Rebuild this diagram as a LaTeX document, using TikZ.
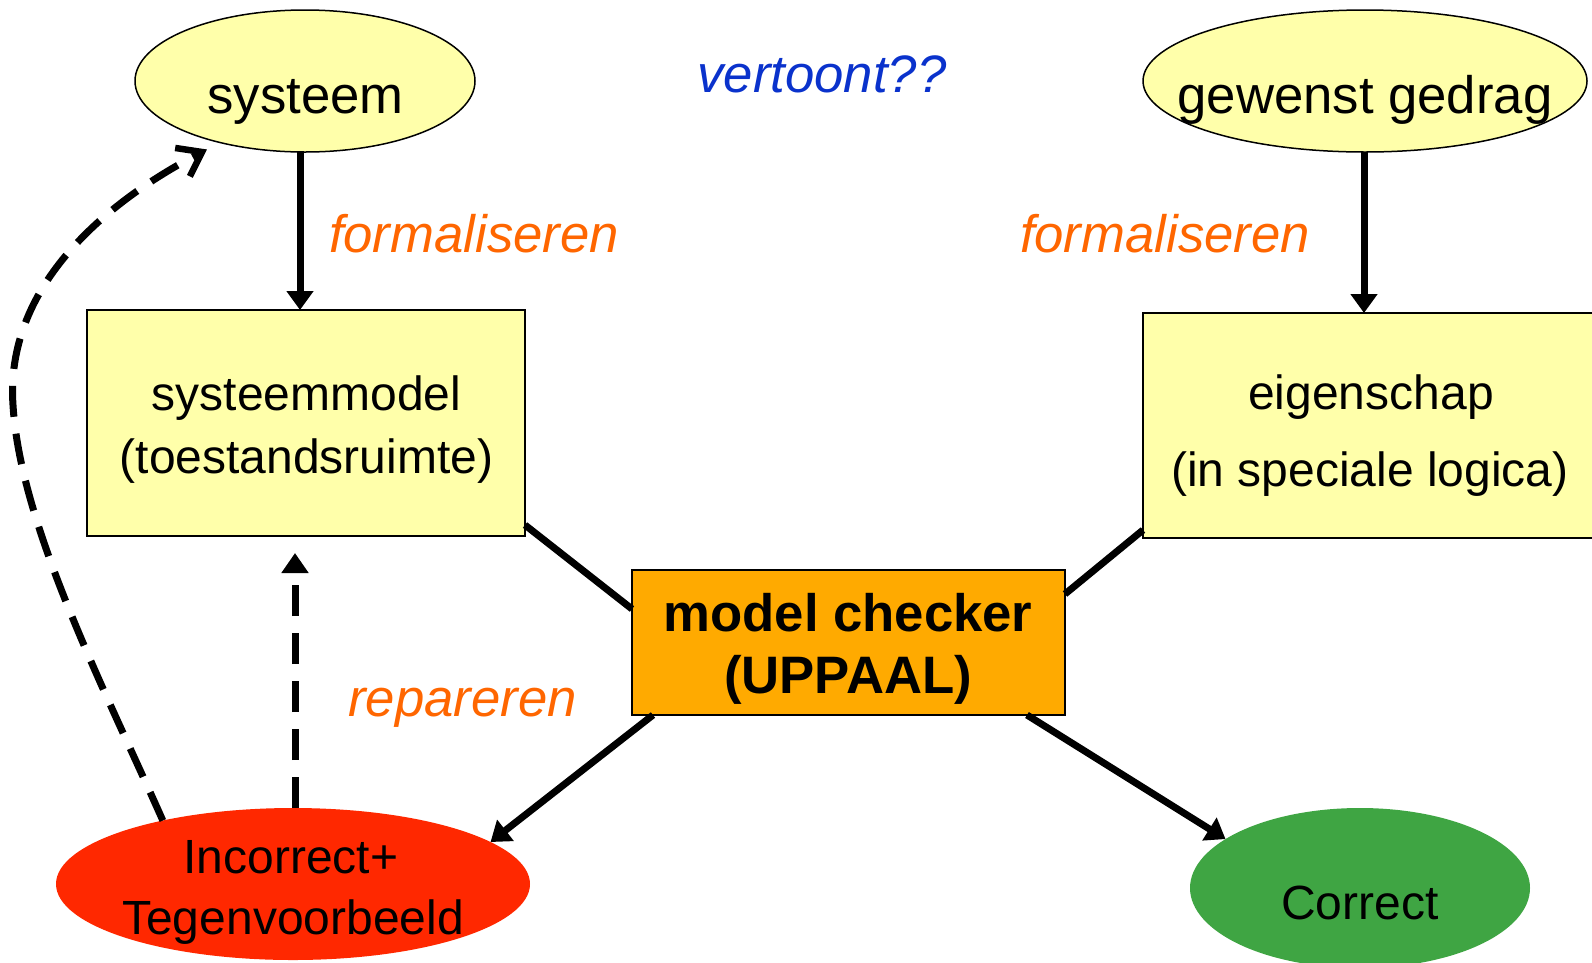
\documentclass[tikz,border=0pt]{standalone}
\usepackage{fontspec}
\setmainfont{Liberation Sans}
\usetikzlibrary{shapes.geometric,arrows.meta,calc}
\definecolor{lyellow}{HTML}{FFFFAA}
\definecolor{mcorange}{HTML}{FFAA00}
\definecolor{incred}{HTML}{FF2800}
\definecolor{corgreen}{HTML}{3FA543}
\definecolor{annorange}{HTML}{FF6600}
\definecolor{annblue}{HTML}{0A32CC}
\begin{document}
\begin{tikzpicture}[x=1pt,y=-1pt,
  every node/.style={inner sep=0pt, outer sep=0pt},
  yell/.style={ellipse, draw=black, line width=1.5pt, fill=lyellow},
  boxy/.style={rectangle, draw=black, line width=2pt, fill=lyellow},
  big/.style={font=\fontsize{52.7pt}{60pt}\selectfont, anchor=base},
  mid/.style={font=\fontsize{48pt}{56pt}\selectfont, anchor=base},
  anno/.style={font=\fontsize{52.7pt}{60pt}\selectfont\itshape, anchor=base},
  conn/.style={line width=7pt},
  arr/.style={conn, -{Triangle[length=19pt,width=26pt]}},
  dashconn/.style={line width=7pt, dash pattern=on 31pt off 17pt},
]
\useasboundingbox (0,0) rectangle (1592,962);
\clip (0,0) rectangle (1592,962);

% shapes
\node[yell, minimum width=340pt, minimum height=142pt] (sys) at (305,81) {};
\node[yell, minimum width=444pt, minimum height=142pt] (gew) at (1365,81) {};
\node[boxy, minimum width=438pt, minimum height=226pt] (sm) at (306,423) {};
\node[boxy, minimum width=457pt, minimum height=225pt] (eig) at (1371.5,425.5) {};
\node[rectangle, draw=black, line width=2pt, fill=mcorange, minimum width=433pt, minimum height=145pt] (mc) at (848.5,642.5) {};
\node[ellipse, fill=incred, minimum width=474pt, minimum height=152pt] (inc) at (293,884) {};
\node[ellipse, fill=corgreen, minimum width=340pt, minimum height=160pt] (cor) at (1360,888) {};

% texts
\node[big] (systxt) at (305.5,113) {systeem};
\node[big] (gewtxt) at (1365,113) {gewenst gedrag};
\node[anno, text=annblue] (vert) at (822,92) {vertoont??};
\node[anno, text=annorange] (forml) at (474,252) {formaliseren};
\node[anno, text=annorange] (formr) at (1165,252) {formaliseren};
\node[anno, text=annorange] (rep) at (462.5,716) {repareren};
\node[mid] (smt1) at (306.5,410) {systeemmodel};
\node[mid] (smt2) at (306.5,473) {(toestandsruimte)};
\node[mid] (eigt1) at (1371,409) {eigenschap};
\node[mid] (eigt2) at (1370,486) {(in speciale logica)};
\node[big, font=\fontsize{52.7pt}{60pt}\selectfont\bfseries] (mct1) at (848,631) {model checker};
\node[big, font=\fontsize{52.7pt}{60pt}\selectfont\bfseries] (mct2) at (848,693) {(UPPAAL)};
\node[mid] (inct1) at (291,873) {Incorrect+};
\node[mid] (inct2) at (293,934) {Tegenvoorbeeld};
\node[mid] (cort) at (1360,919) {Correct};

% connectors
\draw[arr] ([xshift=-5pt]sys.south) -- ([xshift=-6pt]sm.north);
\draw[arr] ([xshift=-1pt]gew.south) -- ([xshift=-7.5pt]eig.north);
\draw[conn] ([yshift=11pt]sm.south east) -- ([yshift=33.5pt]mc.west);
\draw[conn] ([yshift=8pt]eig.south west) -- ([yshift=48.5pt]mc.east);
\draw[arr] ([xshift=21pt]mc.south west) -- (inc.12);
\draw[arr] ([xshift=-38pt]mc.south east) -- (cor.160);
\draw[dashconn, -{Triangle[length=20pt,width=26pt]}, shorten >=17pt]
  ([xshift=2pt]inc.north) -- ([xshift=-11pt]sm.south);
\draw[dashconn, -{Straight Barb[length=22pt,width=32pt,line width=6.5pt]}, shorten >=15pt]
  (inc.154) .. controls (105,690) and (20,525) .. (13,405)
  .. controls (5,290) and (100,205) .. (sys.216);
\end{tikzpicture}
\end{document}
